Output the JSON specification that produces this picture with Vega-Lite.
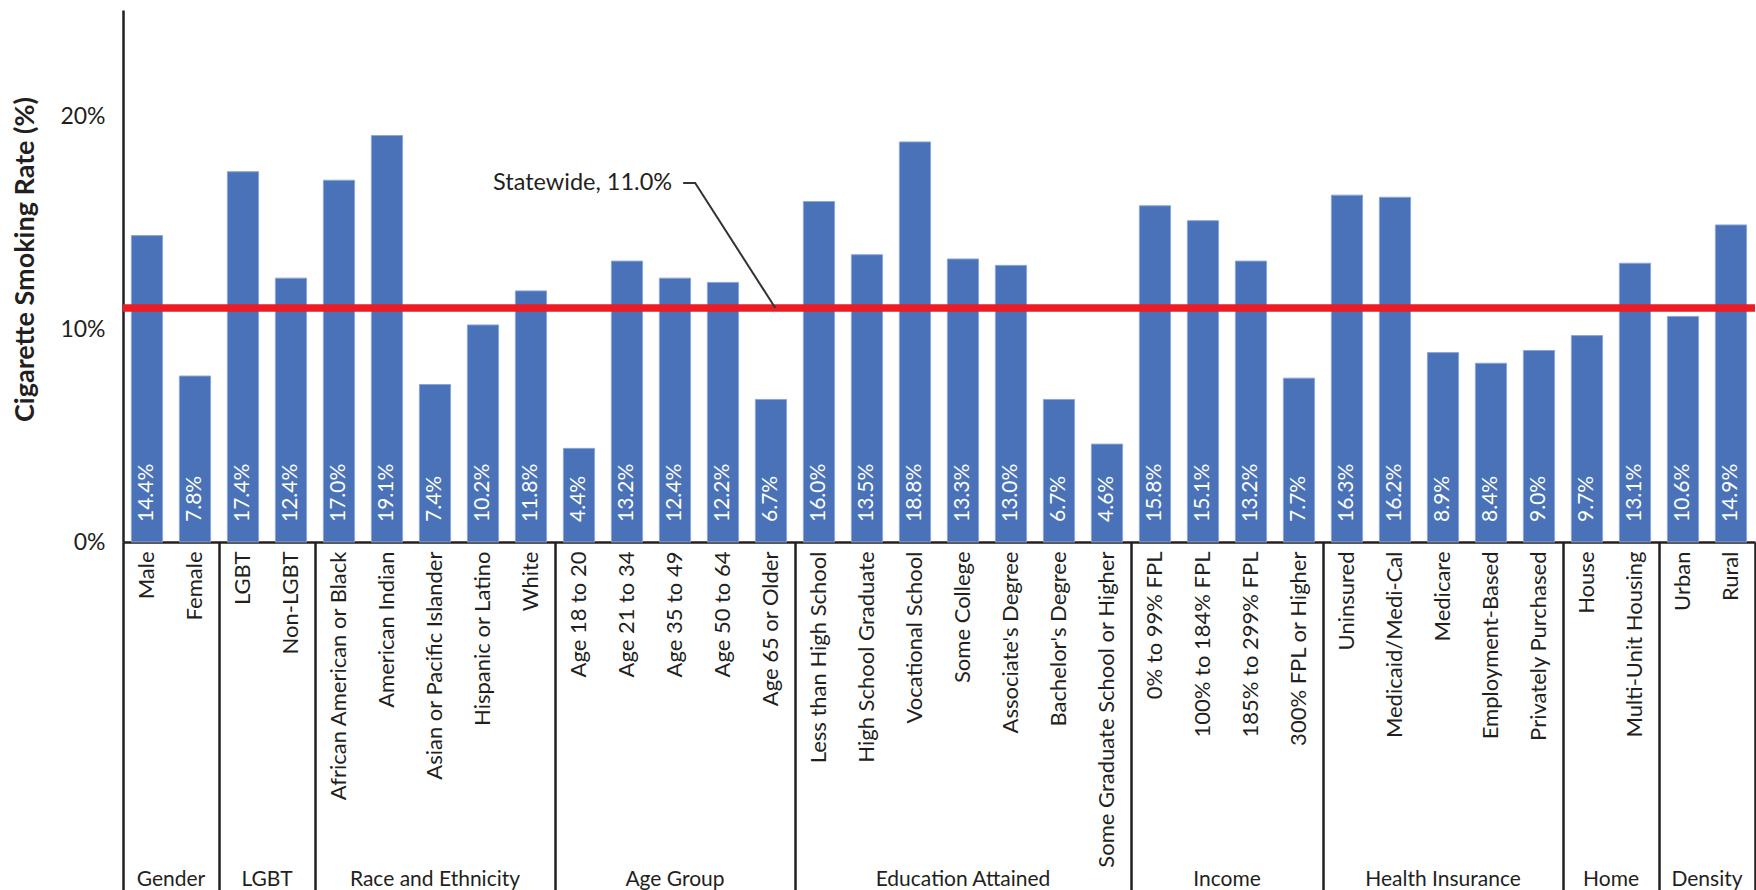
{
  "$schema": "https://vega.github.io/schema/vega-lite/v6.json",
  "autosize": {"type": "none"},
  "width": 1632,
  "height": 532,
  "padding": {"left": 123, "top": 10, "right": 1, "bottom": 348},
  "background": "white",
  "config": {"view": {"stroke": null}, "font": "Lato", "axis": {"grid": false}},
  "datasets": {
    "rates": [
      {"group": "Gender", "category": "Male", "rate": 0.144},
      {"group": "Gender", "category": "Female", "rate": 0.078},
      {"group": "LGBT", "category": "LGBT", "rate": 0.174},
      {"group": "LGBT", "category": "Non-LGBT", "rate": 0.124},
      {"group": "Race and Ethnicity", "category": "African American or Black", "rate": 0.170},
      {"group": "Race and Ethnicity", "category": "American Indian", "rate": 0.191},
      {"group": "Race and Ethnicity", "category": "Asian or Pacific Islander", "rate": 0.074},
      {"group": "Race and Ethnicity", "category": "Hispanic or Latino", "rate": 0.102},
      {"group": "Race and Ethnicity", "category": "White", "rate": 0.118},
      {"group": "Age Group", "category": "Age 18 to 20", "rate": 0.044},
      {"group": "Age Group", "category": "Age 21 to 34", "rate": 0.132},
      {"group": "Age Group", "category": "Age 35 to 49", "rate": 0.124},
      {"group": "Age Group", "category": "Age 50 to 64", "rate": 0.122},
      {"group": "Age Group", "category": "Age 65 or Older", "rate": 0.067},
      {"group": "Education Attained", "category": "Less than High School", "rate": 0.160},
      {"group": "Education Attained", "category": "High School Graduate", "rate": 0.135},
      {"group": "Education Attained", "category": "Vocational School", "rate": 0.188},
      {"group": "Education Attained", "category": "Some College", "rate": 0.133},
      {"group": "Education Attained", "category": "Associate's Degree", "rate": 0.130},
      {"group": "Education Attained", "category": "Bachelor's Degree", "rate": 0.067},
      {"group": "Education Attained", "category": "Some Graduate School or Higher", "rate": 0.046},
      {"group": "Income", "category": "0% to 99% FPL", "rate": 0.158},
      {"group": "Income", "category": "100% to 184% FPL", "rate": 0.151},
      {"group": "Income", "category": "185% to 299% FPL", "rate": 0.132},
      {"group": "Income", "category": "300% FPL or Higher", "rate": 0.077},
      {"group": "Health Insurance", "category": "Uninsured", "rate": 0.163},
      {"group": "Health Insurance", "category": "Medicaid/Medi-Cal", "rate": 0.162},
      {"group": "Health Insurance", "category": "Medicare", "rate": 0.089},
      {"group": "Health Insurance", "category": "Employment-Based", "rate": 0.084},
      {"group": "Health Insurance", "category": "Privately Purchased", "rate": 0.090},
      {"group": "Home", "category": "House", "rate": 0.097},
      {"group": "Home", "category": "Multi-Unit Housing", "rate": 0.131},
      {"group": "Density", "category": "Urban", "rate": 0.106},
      {"group": "Density", "category": "Rural", "rate": 0.149}
    ],
    "statewide": [{"label": "Statewide, 11.0%", "rate": 0.110}],
    "callout": [{"label": "Statewide, 11.0%", "pos": 11.44, "rate": 0.1687}],
    "leader": [
      {"pos": 11.67, "rate": 0.1687},
      {"pos": 11.92, "rate": 0.1687},
      {"pos": 13.59, "rate": 0.110}
    ]
  },
  "resolve": {"scale": {"x": "independent"}},
  "layer": [
    {
      "data": {"name": "rates"},
      "mark": {"type": "bar", "width": {"band": 0.65}, "color": "#4A72B8", "stroke": "#8BA6D6", "strokeWidth": 1},
      "encoding": {
        "x": {
          "field": "category", "type": "nominal", "sort": null,
          "scale": {"type": "band", "paddingInner": 0, "paddingOuter": 0},
          "axis": {
            "orient": "bottom", "title": null, "bandPosition": 1, "labelOffset": 0,
            "labelAngle": -90, "labelFontSize": 22, "labelColor": "#231F20", "labelLimit": 400,
            "labelPadding": -339, "labelOverlap": false,
            "ticks": true, "tickSize": 348, "tickWidth": 2.5,
            "tickColor": {"condition": {"test": "indexof(['Female','Non-LGBT','White','Age 65 or Older','Some Graduate School or Higher','300% FPL or Higher','Privately Purchased','Multi-Unit Housing','Rural'], datum.value) >= 0", "value": "#231F20"}, "value": "transparent"},
            "domain": true, "domainColor": "#231F20", "domainWidth": 2.5
          }
        },
        "y": {
          "field": "rate", "type": "quantitative",
          "scale": {"domain": [0, 0.25], "nice": false},
          "axis": {
            "title": "Cigarette Smoking Rate (%)", "values": [0, 0.1, 0.2], "format": ".0%",
            "ticks": false, "labelFontSize": 23, "labelColor": "#231F20", "labelPadding": 18,
            "domainColor": "#231F20", "domainWidth": 2.5,
            "titleFontSize": 27, "titleFontWeight": "bold", "titleColor": "#231F20",
            "titleX": -98, "titleY": 249, "titleAngle": 270, "titleAlign": "center", "titleBaseline": "middle"
          }
        }
      }
    },
    {
      "data": {"name": "rates"},
      "mark": {"type": "text", "angle": 270, "align": "left", "baseline": "middle", "dx": 20, "color": "white", "fontSize": 21},
      "encoding": {
        "x": {
          "field": "category", "type": "nominal", "sort": null,
          "scale": {"type": "band", "paddingInner": 0, "paddingOuter": 0},
          "axis": {
            "orient": "bottom", "title": null, "bandPosition": 0, "domain": false,
            "ticks": true, "tickSize": 348, "tickWidth": 2.5,
            "tickColor": {"condition": {"test": "datum.value == 'Male'", "value": "#231F20"}, "value": "transparent"},
            "labelAngle": 0, "labelAlign": "center", "labelBaseline": "alphabetic", "labelPadding": -5,
            "labelFontSize": 21, "labelColor": "#231F20", "labelOverlap": false, "labelLimit": 400,
            "labelExpr": "datum.value == 'Female' ? 'Gender' : datum.value == 'Non-LGBT' ? 'LGBT' : datum.value == 'Asian or Pacific Islander' ? 'Race and Ethnicity' : datum.value == 'Age 35 to 49' ? 'Age Group' : datum.value == 'Some College' ? 'Education Attained' : datum.value == '185% to 299% FPL' ? 'Income' : datum.value == 'Medicare' ? 'Health Insurance' : datum.value == 'Multi-Unit Housing' ? 'Home' : datum.value == 'Rural' ? 'Density' : ''",
            "labelOffset": {"condition": {"test": "indexof(['Female','Non-LGBT','185% to 299% FPL','Multi-Unit Housing','Rural'], datum.value) >= 0", "value": -24}, "value": 0}
          }
        },
        "y": {"datum": 0, "type": "quantitative"},
        "text": {"field": "rate", "type": "quantitative", "format": ".1%"}
      }
    },
    {
      "data": {"name": "statewide"},
      "mark": {"type": "rule", "color": "#ED1C24", "strokeWidth": 7.5},
      "encoding": {"y": {"field": "rate", "type": "quantitative"}}
    },
    {
      "data": {"name": "callout"},
      "mark": {"type": "text", "align": "right", "baseline": "middle", "fontSize": 23.5, "color": "#231F20"},
      "encoding": {
        "x": {"field": "pos", "type": "quantitative", "scale": {"domain": [0, 34], "nice": false, "zero": false}, "axis": null},
        "y": {"field": "rate", "type": "quantitative"},
        "text": {"field": "label", "type": "nominal"}
      }
    },
    {
      "data": {"name": "leader"},
      "mark": {"type": "line", "color": "#333333", "strokeWidth": 2},
      "encoding": {
        "x": {"field": "pos", "type": "quantitative", "scale": {"domain": [0, 34], "nice": false, "zero": false}, "axis": null},
        "y": {"field": "rate", "type": "quantitative"}
      }
    }
  ]
}
